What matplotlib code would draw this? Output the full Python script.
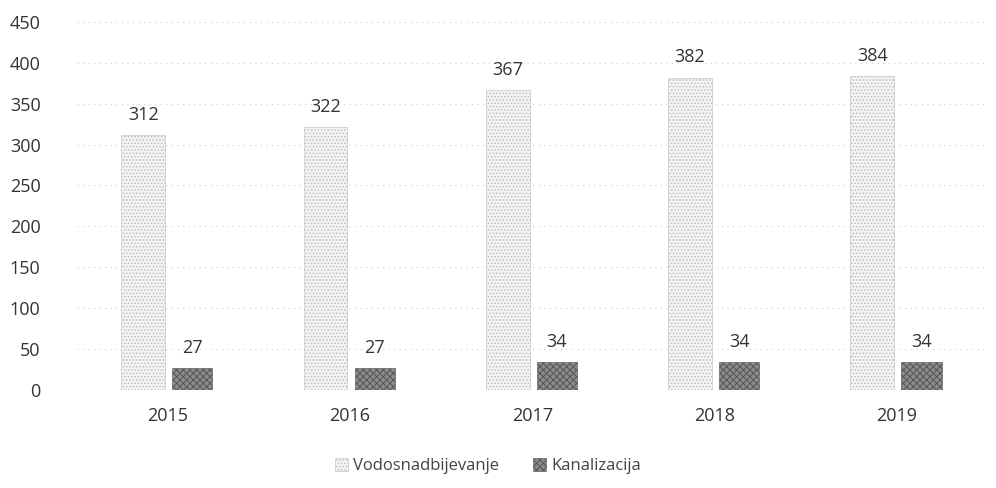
import matplotlib.pyplot as plt
import numpy as np

years = ["2015", "2016", "2017", "2018", "2019"]
vodosnadbijevanje = [312, 322, 367, 382, 384]
kanalizacija = [27, 27, 34, 34, 34]

plt.rcParams['font.family'] = ['Open Sans', 'DejaVu Sans']
plt.rcParams['hatch.linewidth'] = 0.7

fig = plt.figure(figsize=(9.96, 4.88), dpi=100)
ax = fig.add_axes([0.077, 0.201, 0.915, 0.754])

x = np.arange(len(years))
plt.rcParams['hatch.color'] = '#a8a8a8'
b1 = ax.bar(x - 0.135, vodosnadbijevanje, 0.24, color='#f4f4f4', edgecolor='#bcbcbc',
            hatch='.....', linewidth=0.4, label='Vodosnadbijevanje')
plt.rcParams['hatch.color'] = '#444444'
b2 = ax.bar(x + 0.135, kanalizacija, 0.22, color='#8c8c8c', edgecolor='#555555',
            hatch='xxxxx', linewidth=0.4, label='Kanalizacija')

for bars in (b1, b2):
    for r in bars:
        ax.annotate(str(int(r.get_height())), (r.get_x() + r.get_width() / 2, r.get_height()),
                    xytext=(0, 8), textcoords='offset points', ha='center', va='bottom',
                    fontsize=13, color='#333333')

ax.set_ylim(0, 450)
ax.set_xlim(-0.5, 4.5)
ax.set_yticks(range(0, 451, 50))
ax.set_xticks(x)
ax.set_xticklabels(years)
ax.tick_params(length=0, labelsize=13, colors='#333333')
ax.tick_params(axis='y', pad=26)
ax.tick_params(axis='x', pad=12)
ax.yaxis.grid(True, linestyle=(0, (1, 4)), color='#cfcfcf', linewidth=0.8)
ax.set_axisbelow(True)
for s in ax.spines.values():
    s.set_visible(False)

fig.legend(handles=[b1, b2], loc='center', bbox_to_anchor=(0.49, 0.045), ncol=2,
           frameon=False, fontsize=12, handlelength=0.8, handleheight=0.8,
           handletextpad=0.3, columnspacing=2.0, labelcolor='#444444')

fig.savefig('out.png', dpi=100)
